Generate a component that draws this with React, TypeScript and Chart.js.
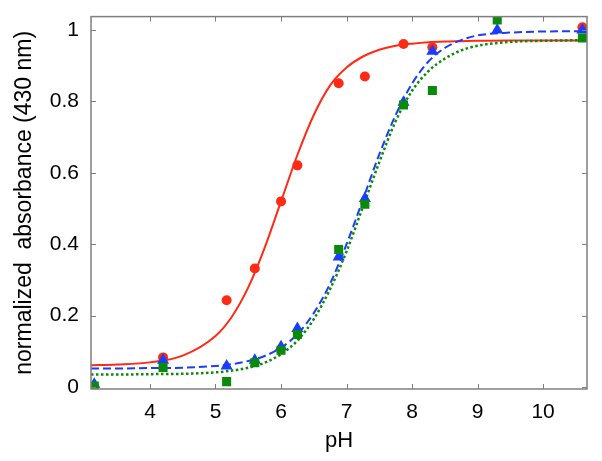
import React, { useEffect, useRef } from "react";
import { Chart, registerables } from "chart.js";

Chart.register(...registerables);

// Fitted curves
const curvePH = [3.1, 3.5, 4, 4.5, 5, 5.25, 5.5, 5.75, 6, 6.25, 6.5, 6.75, 7, 7.25, 7.5, 7.75, 8, 8.25, 8.5, 8.75, 9, 9.5, 10, 10.67];
const redFit = [0.061, 0.063, 0.069, 0.088, 0.143, 0.197, 0.279, 0.39, 0.52, 0.65, 0.762, 0.845, 0.895, 0.926, 0.945, 0.956, 0.962, 0.966, 0.968, 0.969, 0.97, 0.971, 0.971, 0.971];
const blueFit = [0.052, 0.052, 0.053, 0.054, 0.059, 0.064, 0.073, 0.087, 0.11, 0.148, 0.207, 0.29, 0.4, 0.525, 0.652, 0.762, 0.85, 0.912, 0.95, 0.972, 0.985, 0.993, 0.996, 0.997];
const greenFit = [0.035, 0.035, 0.036, 0.037, 0.041, 0.046, 0.054, 0.068, 0.092, 0.13, 0.19, 0.275, 0.38, 0.505, 0.63, 0.745, 0.83, 0.885, 0.92, 0.943, 0.956, 0.967, 0.97, 0.972];

// Measured points
const samplePH = [3.15, 4.2, 5.17, 5.6, 6.0, 6.25, 6.88, 7.28, 7.87, 8.31, 9.3, 10.6];
const redPoints: (number | null)[] = [null, 0.083, 0.243, 0.332, 0.52, 0.621, 0.851, 0.87, 0.961, 0.952, null, 1.008];
const bluePoints: (number | null)[] = [0.008, 0.075, 0.059, 0.075, 0.113, 0.164, 0.364, 0.528, 0.798, 0.941, 1.0, 1.0];
const greenPoints: (number | null)[] = [0.003, 0.055, 0.015, 0.068, 0.103, 0.147, 0.385, 0.512, 0.79, 0.831, 1.028, 0.978];

const xTickValues = [4, 5, 6, 7, 8, 9, 10];
const yTickValues = [0, 0.2, 0.4, 0.6, 0.8, 1];
const yTickLabels = ["0", "0.2", "0.4", "0.6", "0.8", "1"];

const RED = "#ff2a14";
const BLUE = "#1a3cff";
const GREEN = "#0a8a0a";
const FONT = "'Liberation Sans', Arial, Helvetica, sans-serif";

const pairs = (xs: number[], ys: (number | null)[]) =>
  xs.map((x, i) => ({ x, y: ys[i] })).filter((p) => p.y !== null);

const boxPlugin = {
  id: "boxTicks",
  afterDatasetsDraw(chart: any) {
    const { ctx, chartArea: a, scales } = chart;
    ctx.save();
    ctx.strokeStyle = "#7f7f7f";
    ctx.lineWidth = 1;
    const L = 5;
    ctx.beginPath();
    xTickValues.forEach((v) => {
      const px = Math.round(scales.x.getPixelForValue(v)) + 0.5;
      ctx.moveTo(px, a.bottom);
      ctx.lineTo(px, a.bottom - L);
      ctx.moveTo(px, a.top);
      ctx.lineTo(px, a.top + L);
    });
    yTickValues.forEach((v) => {
      const py = Math.round(scales.y.getPixelForValue(v)) + 0.5;
      ctx.moveTo(a.left, py);
      ctx.lineTo(a.left + L, py);
      ctx.moveTo(a.right, py);
      ctx.lineTo(a.right - L, py);
    });
    ctx.stroke();
    ctx.lineWidth = 1.5;
    ctx.strokeRect(a.left, a.top, a.right - a.left, a.bottom - a.top);
    ctx.restore();
  },
};

export default function App() {
  const ref = useRef<HTMLCanvasElement | null>(null);

  useEffect(() => {
    if (!ref.current) return;
    const chart = new Chart(ref.current, {
      type: "scatter",
      data: {
        datasets: [
          {
            label: "green points",
            data: pairs(samplePH, greenPoints),
            pointStyle: "rect",
            pointRadius: 6.4,
            backgroundColor: GREEN,
            borderColor: GREEN,
            borderWidth: 0,
            showLine: false,
            order: 1,
            clip: 0,
          },
          {
            label: "blue points",
            data: pairs(samplePH, bluePoints),
            pointStyle: "triangle",
            pointRadius: 7,
            backgroundColor: BLUE,
            borderColor: BLUE,
            borderWidth: 0,
            showLine: false,
            order: 2,
            clip: 0,
          },
          {
            label: "red points",
            data: pairs(samplePH, redPoints),
            pointStyle: "circle",
            pointRadius: 5,
            backgroundColor: RED,
            borderColor: RED,
            borderWidth: 0,
            showLine: false,
            order: 3,
            clip: 0,
          },
          {
            label: "green fit",
            data: pairs(curvePH, greenFit),
            showLine: true,
            pointRadius: 0,
            borderColor: GREEN,
            borderWidth: 2.5,
            borderDash: [2.5, 2.5],
            cubicInterpolationMode: "monotone",
            order: 4,
            clip: 0,
          },
          {
            label: "blue fit",
            data: pairs(curvePH, blueFit),
            showLine: true,
            pointRadius: 0,
            borderColor: BLUE,
            borderWidth: 2,
            borderDash: [8, 4],
            cubicInterpolationMode: "monotone",
            order: 5,
            clip: 0,
          },
          {
            label: "red fit",
            data: pairs(curvePH, redFit),
            showLine: true,
            pointRadius: 0,
            borderColor: RED,
            borderWidth: 2,
            cubicInterpolationMode: "monotone",
            order: 6,
            clip: 0,
          },
        ],
      } as any,
      options: {
        responsive: false,
        animation: false,
        layout: { padding: { top: 16, right: 15, left: 0, bottom: 0 } },
        plugins: {
          legend: { display: false },
          tooltip: { enabled: false },
        },
        scales: {
          x: {
            type: "linear",
            min: 3.1,
            max: 10.67,
            grid: { display: false },
            border: { display: false },
            afterBuildTicks: (s: any) => {
              s.ticks = xTickValues.map((v) => ({ value: v }));
            },
            afterFit: (s: any) => {
              s.height = 72;
            },
            ticks: {
              color: "#000",
              padding: 3,
              font: { family: FONT, size: 21 },
              callback: (v: any) => String(v),
            },
            title: {
              display: true,
              text: "pH",
              color: "#000",
              font: { family: FONT, size: 22 },
              padding: { top: 0, bottom: 7 },
            },
          },
          y: {
            type: "linear",
            min: -0.0056,
            max: 1.0378,
            grid: { display: false },
            border: { display: false },
            afterBuildTicks: (s: any) => {
              s.ticks = yTickValues.map((v) => ({ value: v }));
            },
            afterFit: (s: any) => {
              s.width = 91;
            },
            ticks: {
              color: "#000",
              padding: 4,
              font: { family: FONT, size: 21 },
              callback: (v: any) => {
                const i = yTickValues.indexOf(Number(v));
                return i >= 0 ? yTickLabels[i] : "";
              },
            },
            title: {
              display: true,
              text: "normalized  absorbance (430 nm)",
              color: "#000",
              font: { family: FONT, size: 23 },
              padding: { top: 11, bottom: 0 },
            },
          },
        },
      },
      plugins: [boxPlugin],
    } as any);
    return () => chart.destroy();
  }, []);

  return (
    <div style={{ position: "fixed", left: 0, top: 0, width: 602, height: 461, background: "#fff" }}>
      <canvas ref={ref} width={602} height={461} style={{ width: 602, height: 461 }} />
    </div>
  );
}
